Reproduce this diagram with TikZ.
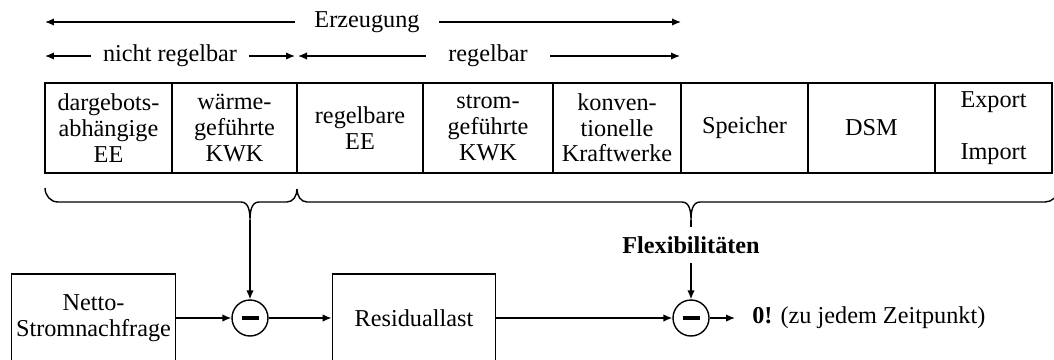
\documentclass[tikz,border=0pt]{standalone}
\usepackage{fontspec}
\setmainfont{Liberation Serif}
\usetikzlibrary{arrows.meta,positioning}
\newcommand{\blockfont}{\fontsize{13.8}{14.6}\selectfont\lineskiplimit=-10pt}
\tikzset{
  cell/.style={draw,line width=0.9pt,minimum height=1.8cm,align=center,
               inner sep=0pt,font=\blockfont},
  block/.style={draw,line width=0.8pt,minimum width=3.27cm,minimum height=1.76cm,
                align=center,inner sep=0pt,font=\blockfont},
  diffnode/.style={draw,circle,line width=0.8pt,minimum size=0.72cm,inner sep=0pt},
  spanlabel/.style={inner ysep=0pt,font=\blockfont},
  flow/.style={line width=0.8pt,-{Latex[length=1.8mm,width=1.5mm]}},
  brace/.style={line width=0.8pt},
}

\begin{document}
\blockfont
\begin{tikzpicture}[x=0.02cm,y=-0.02cm]
  \useasboundingbox (0,0) rectangle (1054,359);
  \clip (0,0) rectangle (1054,359);
  %% Spans above the table
  \coordinate (erzL) at (45,22);
  \coordinate (erzR) at (681,22);
  \node[spanlabel,inner xsep=0.38cm] (erz) at (367,22) {Erzeugung};
  \draw[flow] (erz) -- (erzL);
  \draw[flow] (erz) -- (erzR);
  \coordinate (nrL) at (45,56);
  \coordinate (nrR) at (295,56);
  \node[spanlabel,inner xsep=0.23cm] (nreg) at (170,56) {nicht regelbar};
  \draw[flow] (nreg) -- (nrL);
  \draw[flow] (nreg) -- (nrR);
  \coordinate (rL) at (298,56);
  \coordinate (rR) at (680,56);
  \node[spanlabel,inner xsep=0.44cm] (reg) at (488,56) {regelbar};
  \draw[flow] (reg) -- (rL);
  \draw[flow] (reg) -- (rR);
  %% Table of generation and flexibility options
  \node[cell,minimum width=2.54cm] (ee)    at (108.5,128) {dargebots-\\abhängige\\EE};
  \node[cell,minimum width=2.50cm] (wkwk)  at (234.5,128) {wärme-\\geführte\\KWK};
  \node[cell,minimum width=2.52cm] (regee) at (360,128)   {regelbare\\EE};
  \node[cell,minimum width=2.60cm] (skwk)  at (488,128)   {strom-\\geführte\\KWK};
  \node[cell,minimum width=2.56cm] (konv)  at (617,128)   {konven-\\tionelle\\Kraftwerke};
  \node[cell,minimum width=2.54cm] (spei)  at (744.5,128) {Speicher};
  \node[cell,minimum width=2.54cm] (dsm)   at (871.5,128) {DSM};
  \node[cell,minimum width=2.34cm] (expim) at (993.5,128) {Export\\[15pt]Import};
  %% Braces
  \coordinate (tip1) at (250,220);
  \coordinate (tip2) at (691,220);
  \draw[brace] (45,188) to[out=-90,in=180] (58,202) -- (241,202)
        to[out=0,in=90] (tip1) to[out=90,in=180] (259,202) -- (287,202)
        to[out=0,in=-90] (297,189);
  \draw[brace] (297,189) to[out=-90,in=180] (307,202) -- (682,202)
        to[out=0,in=90] (tip2) to[out=90,in=180] (700,202) -- (1045,202)
        to[out=0,in=-90] (1058,189);
  %% Balance chain
  \node[block] (netto) at (93.5,318) {Netto-\\Stromnachfrage};
  \node[diffnode] (d1) at (250,318) {\rule[-1.1pt]{0.34cm}{2.2pt}};
  \node[block] (resid) at (414,318) {Residuallast};
  \node[diffnode] (d2) at (691,318) {\rule[-1.1pt]{0.34cm}{2.2pt}};
  \node[font=\blockfont\bfseries,inner xsep=0pt,inner ysep=0.18cm] (flex) at (691,245)
        {Flexibilitäten};
  \node[anchor=west,font=\blockfont,inner xsep=0.34cm] (zero) at (735,318)
        {\textbf{0!} (zu jedem Zeitpunkt)};
  \draw[flow] (tip1) -- (d1);
  \draw[brace] (tip2) -- (flex);
  \draw[flow] (flex) -- (d2);
  \draw[flow] (netto) -- (d1);
  \draw[flow] (d1) -- (resid);
  \draw[flow] (resid) -- (d2);
  \draw[flow] (d2.east) -- (zero.west);
\end{tikzpicture}
\end{document}
